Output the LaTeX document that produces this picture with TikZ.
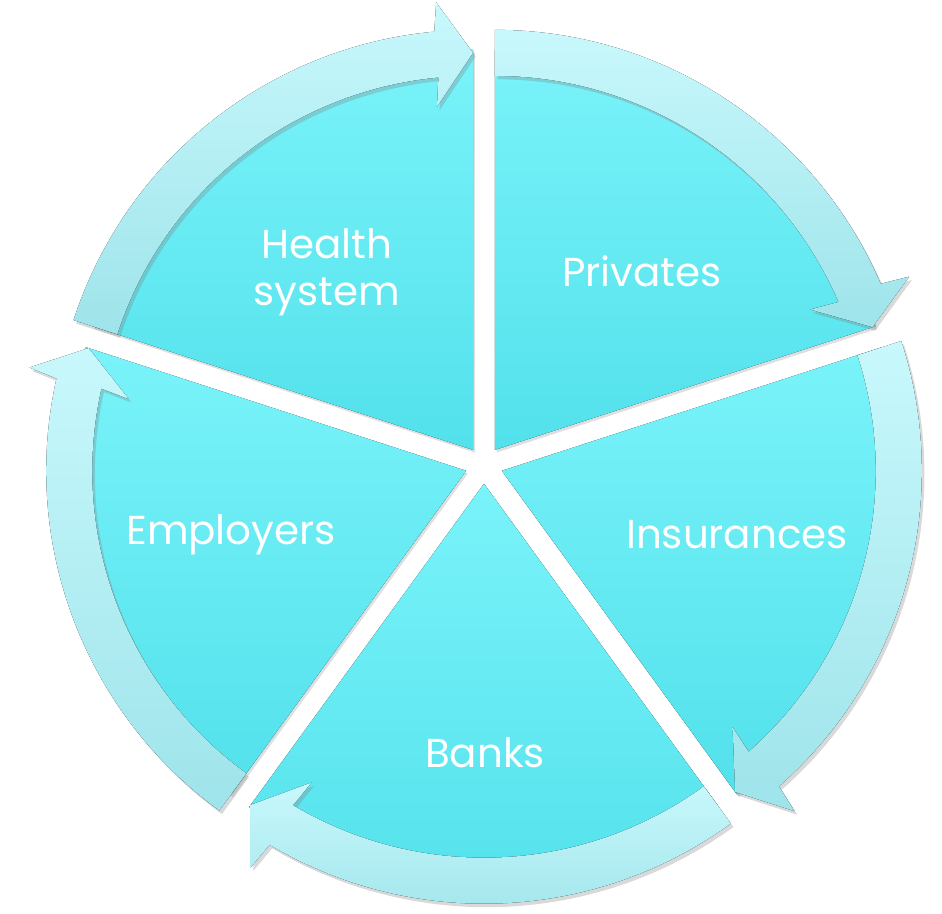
\documentclass[tikz,border=0pt]{standalone}
\usepackage{fontspec}
\setsansfont{Poppins}
\usetikzlibrary{shadows}

\definecolor{secTop}{RGB}{122,243,250}
\definecolor{secBot}{RGB}{82,225,235}
\definecolor{bandTop}{RGB}{200,248,252}
\definecolor{bandBot}{RGB}{158,228,234}

\begin{document}
\begin{tikzpicture}[x=0.02cm,y=0.02cm,
  sector/.style={top color=secTop,bottom color=secBot,
    drop shadow={opacity=0.25,shadow xshift=1pt,shadow yshift=-1.5pt}},
  band/.style={top color=bandTop,bottom color=bandBot,
    drop shadow={opacity=0.3,shadow xshift=1.5pt,shadow yshift=-2pt}},
  lbl/.style={text=white,align=center,
    font=\sffamily\fontsize{23}{27}\selectfont}]
  \useasboundingbox (-484,-448) rectangle (458,465);
  % five slices, each pushed out a little along its middle
  \foreach \a [evaluate=\a as \b using \a-36,
               evaluate=\a as \e using \a-72] in {90,18,-54,-126,162} {
    \begin{scope}[shift={(\b:18.7)}]
      \fill[sector] (0,0) -- (\a:400) arc[start angle=\a,end angle=\e,radius=400] -- cycle;
    \end{scope}
  }
  % curved arrows round the rim, clockwise
  \foreach \a [evaluate=\a as \b using \a-36,
               evaluate=\a as \e using \a-72,
               evaluate=\a as \h using \a-66.7,
               evaluate=\a as \o using \a-67.3,
               evaluate=\a as \n using \a-66] in {90,18,-54,-126,162} {
    \begin{scope}[shift={(\b:18.7)}]
      \fill[band] (\a:420) arc[start angle=\a,end angle=\h,radius=420]
        -- (\o:449) -- (\e:397) -- (\n:345) -- (\h:374)
        arc[start angle=\h,end angle=\a,radius=374] -- cycle;
    \end{scope}
  }
  \node[lbl] (health) at (-157,193) {Health\\system};
  \node[lbl] (privates) at (158,194) {Privates};
  \node[lbl] (insurances) at (253,-70) {Insurances};
  \node[lbl] (banks) at (1,-288) {Banks};
  \node[lbl] (employers) at (-253,-70) {Employers};
\end{tikzpicture}
\end{document}
